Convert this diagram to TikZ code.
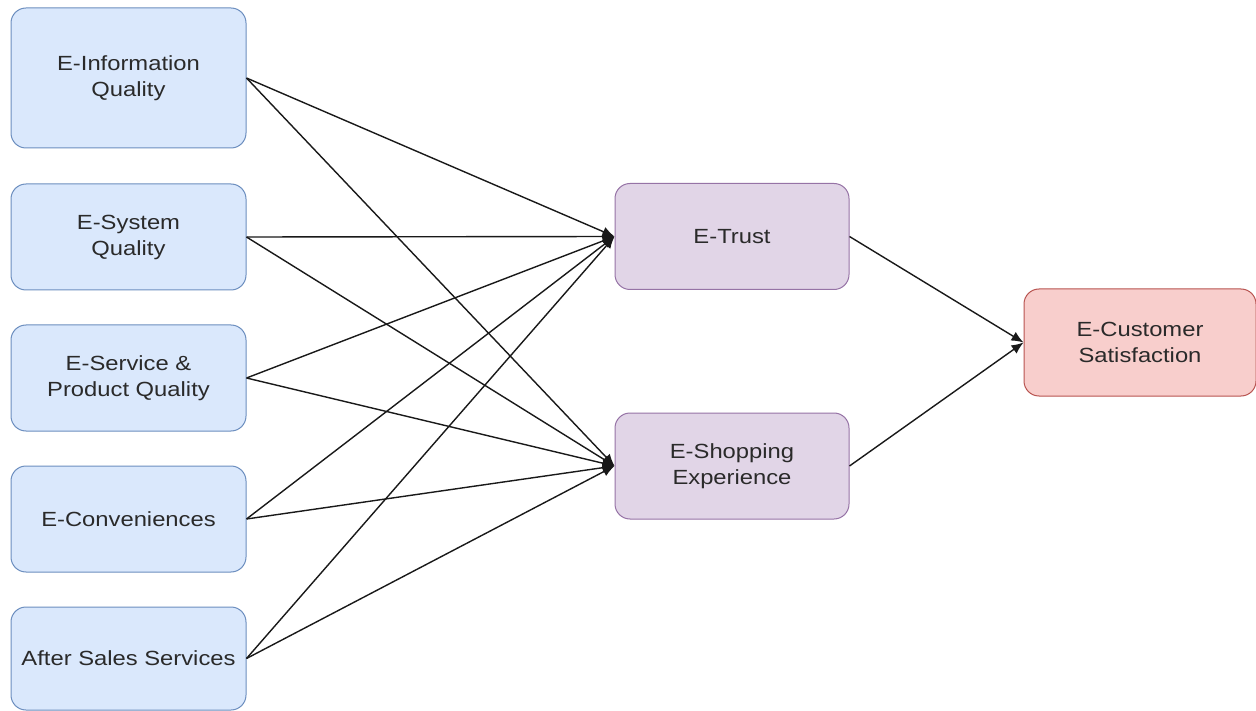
\documentclass[tikz,border=0pt]{standalone}
\usepackage{fontspec}
\setmainfont{Liberation Sans}[FakeStretch=1.16]
\usetikzlibrary{arrows.meta}
\definecolor{bluefill}{HTML}{DAE8FC}
\definecolor{bluedraw}{HTML}{6C8EBF}
\definecolor{purplefill}{HTML}{E1D5E7}
\definecolor{purpledraw}{HTML}{9673A6}
\definecolor{redfill}{HTML}{F8CECC}
\definecolor{reddraw}{HTML}{B85450}
\definecolor{txt}{HTML}{2A2A2A}
\tikzset{
  box/.style={rectangle, rounded corners=15pt, line width=1pt, minimum width=235pt, minimum height=106pt,
    align=center, font=\fontsize{20.5}{26}\selectfont, text=txt, inner sep=0pt},
  inbox/.style={box, fill=bluefill, draw=bluedraw},
  midbox/.style={box, fill=purplefill, draw=purpledraw, minimum width=234pt},
  outbox/.style={box, fill=redfill, draw=reddraw, minimum width=232pt, minimum height=107pt},
  conn/.style={line width=1.4pt, draw=black!90, -{Latex[length=12pt,width=10pt]}}
}
\begin{document}
\begin{tikzpicture}[x=1pt,y=-1pt]
\useasboundingbox (0,0) rectangle (1256,711);
\fill[white] (0,0) rectangle (1256,711);
\node[inbox, minimum height=140pt] (a) at (128.5,78) {E-Information\\Quality};
\node[inbox] (b) at (128.5,237) {E-System\\Quality};
\node[inbox] (c) at (128.5,378) {E-Service \&\\Product Quality};
\node[inbox] (d) at (128.5,519) {E-Conveniences};
\node[inbox, minimum height=103pt] (e) at (128.5,658.5) {After Sales Services};
\node[midbox] (t) at (732,236.5) {E-Trust};
\node[midbox] (s) at (732,466) {E-Shopping\\Experience};
\node[outbox] (o) at (1140,342.5) {E-Customer\\Satisfaction};
\foreach \n in {a,b,c,d,e}{
  \draw[conn] (\n.east) -- (t.west);
  \draw[conn] (\n.east) -- (s.west);
}
\draw[conn] (t.east) -- (o.west);
\draw[conn] (s.east) -- (o.west);
\end{tikzpicture}
\end{document}
